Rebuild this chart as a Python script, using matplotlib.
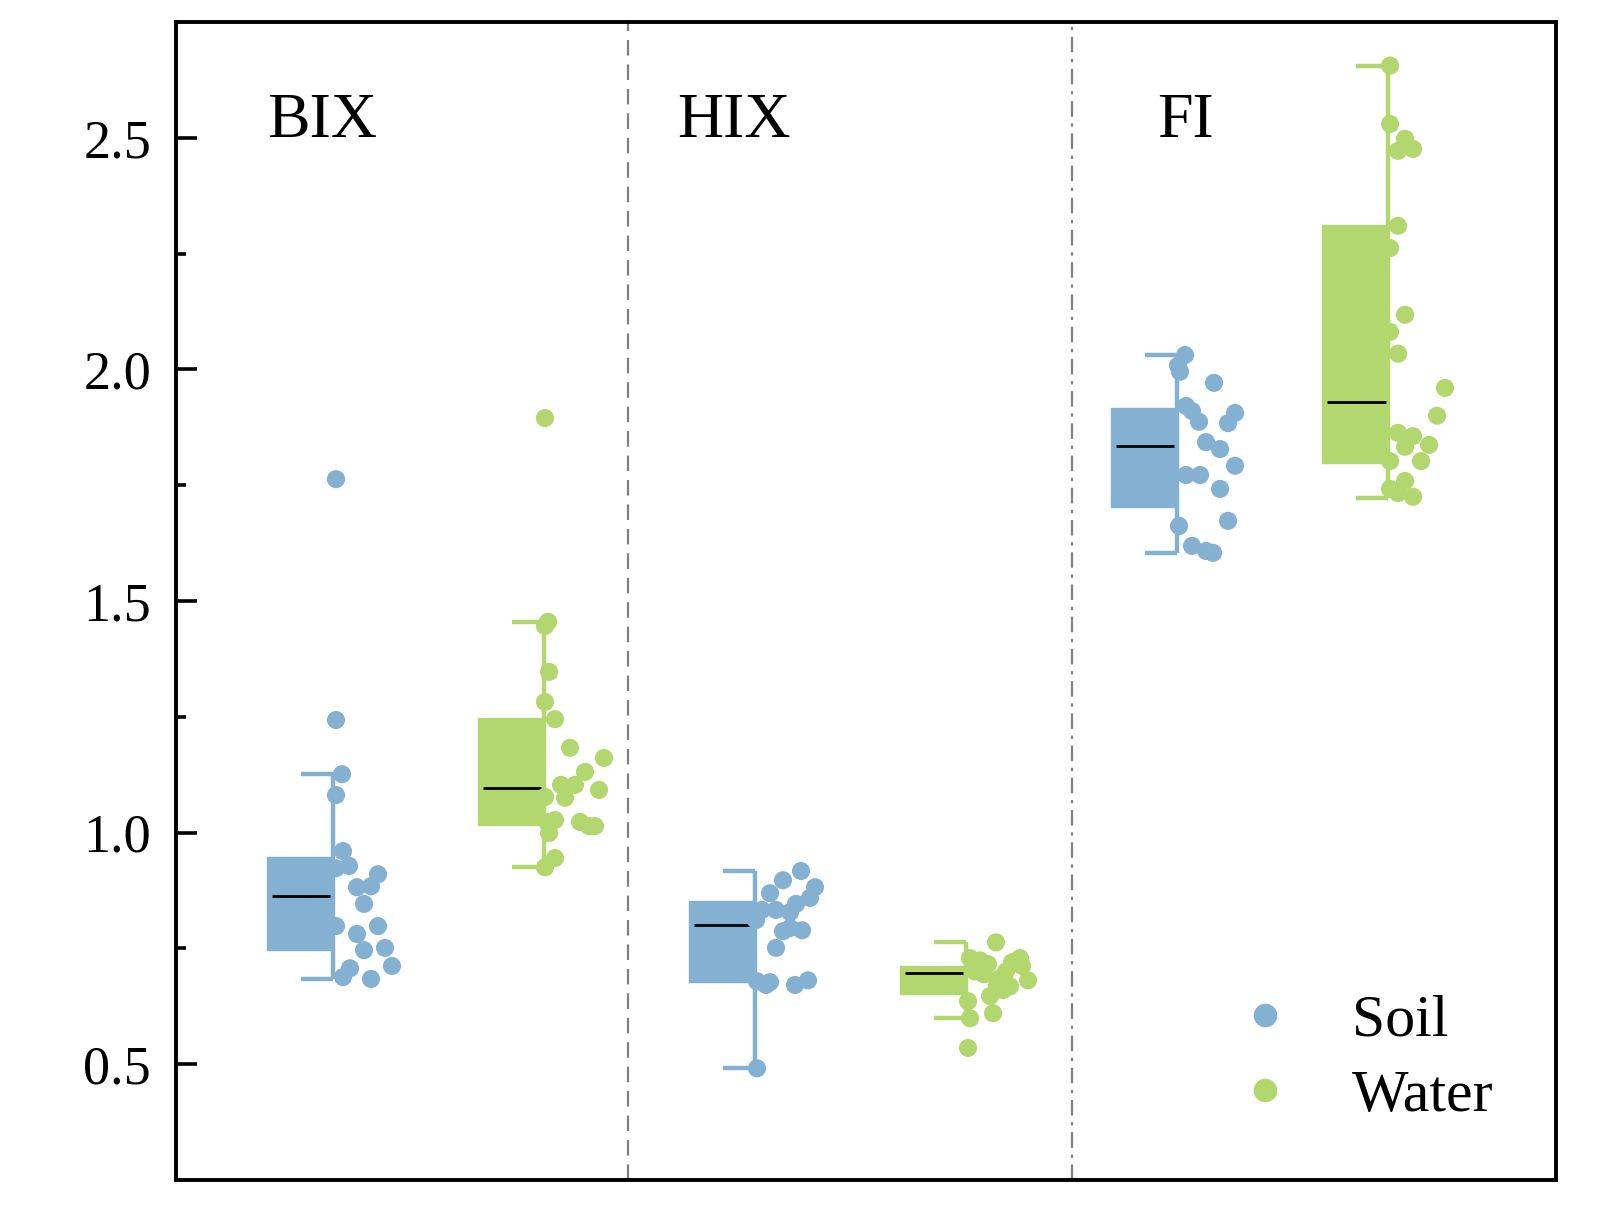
import matplotlib.pyplot as plt
from matplotlib.lines import Line2D

plt.rcParams['font.family'] = ['Liberation Serif', 'DejaVu Serif']

# groups and series
groups = ["BIX", "HIX", "FI"]
series = ["Soil", "Water"]
colors = {"Soil": "#84b0d2", "Water": "#b3d76f"}

# box statistics: (whislo, q1, median, q3, whishi)
soil_stats = [
    (0.684, 0.746, 0.863, 0.947, 1.126),
    (0.491, 0.677, 0.800, 0.852, 0.917),
    (1.604, 1.703, 1.835, 1.917, 2.031),
]
water_stats = [
    (0.925, 1.016, 1.096, 1.247, 1.455),
    (0.599, 0.651, 0.697, 0.712, 0.763),
    (1.722, 1.798, 1.930, 2.312, 2.656),
]

# raw points
soil_bix = [1.763, 1.243, 1.126, 1.081, 0.960, 0.923, 0.928, 0.910, 0.882, 0.884,
            0.846, 0.798, 0.798, 0.781, 0.746, 0.751, 0.712, 0.707, 0.688, 0.684]
water_bix = [1.895, 1.455, 1.446, 1.347, 1.282, 1.245, 1.183, 1.161, 1.131, 1.103, 1.103,
             1.092, 1.077, 1.075, 1.027, 1.023, 1.023, 1.014, 1.014, 0.999, 0.945, 0.925]
soil_hix = [0.491, 0.917, 0.897, 0.869, 0.882, 0.859, 0.833, 0.833, 0.828, 0.846,
            0.811, 0.787, 0.794, 0.789, 0.751, 0.679, 0.671, 0.677, 0.671, 0.681]
water_hix = [0.763, 0.729, 0.724, 0.716, 0.700, 0.694, 0.729, 0.720, 0.712, 0.681,
             0.700, 0.686, 0.671, 0.660, 0.647, 0.668, 0.636, 0.610, 0.599, 0.535]
soil_fi = [2.031, 2.008, 1.995, 1.971, 1.921, 1.910, 1.887, 1.884, 1.906, 1.843,
           1.828, 1.772, 1.772, 1.792, 1.742, 1.673, 1.662, 1.619, 1.608, 1.604]
water_fi = [2.656, 2.530, 2.498, 2.472, 2.476, 2.310, 2.262, 2.118, 2.081, 2.034, 1.960,
            1.900, 1.863, 1.856, 1.833, 1.837, 1.802, 1.802, 1.759, 1.742, 1.733, 1.725]

# horizontal jitter of each point
soil_bix_jit = [3, 3, 9, 3, 10, 3, 16, 45, 24, 38, 31, 3, 45, 24, 31, 52, 59, 17, 10, 38]
water_bix_jit = [1, 4, 1, 5, 1, 11, 26, 60, 41, 17, 31, 55, 1, 21, 11, 3, 36, 45, 51, 5, 11, 1]
soil_hix_jit = [2, 46, 28, 15, 60, 55, 7, 21, 35, 41, 1, 28, 35, 47, 21, 2, 11, 15, 40, 53]
water_hix_jit = [30, 4, 14, 22, 9, 18, 54, 46, 56, 62, 40, 34, 31, 37, 24, 44, 2, 27, 4, 2]
soil_fi_jit = [8, 1, 3, 37, 9, 15, 22, 51, 58, 29, 43, 9, 23, 58, 43, 51, 2, 15, 29, 36]
water_fi_jit = [2, 2, 17, 10, 25, 10, 2, 17, 2, 10, 57, 49, 10, 25, 17, 41, 33, 2, 17, 2, 10, 25]

soil_pts = [soil_bix, soil_hix, soil_fi]
water_pts = [water_bix, water_hix, water_fi]
soil_jit = [soil_bix_jit, soil_hix_jit, soil_fi_jit]
water_jit = [water_bix_jit, water_hix_jit, water_fi_jit]

JIT_UNIT = 1 / 422.0
box_w = 0.156
cap_w = 0.076

fig = plt.figure(figsize=(16, 12.24), dpi=100)
ax = fig.add_axes([0.11, 0.036, 0.8625, 0.946])


def draw_group(x, stats, pts, jit, color):
    lo, q1, med, q3, hi = stats
    ax.vlines(x, lo, hi, color=color, lw=3.2, zorder=2)
    ax.hlines([lo, hi], x - cap_w, x, color=color, lw=3.2, zorder=2)
    ax.bar(x, q3 - q1, bottom=q1, width=-box_w, align='edge', color=color,
           edgecolor=color, lw=1, zorder=3)
    ax.hlines(med, x - box_w + 0.012, x - 0.006, color='black', lw=2, zorder=4)
    ax.scatter([x + j * JIT_UNIT for j in jit], pts, s=170, color=color,
               edgecolors='none', zorder=5)


for i, g in enumerate(groups):
    draw_group(i, soil_stats[i], soil_pts[i], soil_jit[i], colors["Soil"])
    draw_group(i + 0.5, water_stats[i], water_pts[i], water_jit[i], colors["Water"])

# group labels
label_x = [-0.026, 0.95, 2.02]
for i, g in enumerate(groups):
    ax.text(label_x[i], 2.535, g, fontsize=46, ha='center', va='center')

# separators
ax.axvline(0.70, color='#808080', lw=1.6, ls=(0, (7, 4)), zorder=1)
ax.axvline(1.75, color='#808080', lw=1.6, ls=(0, (7, 3, 1.5, 3)), zorder=1)

ax.set_xlim(-0.372, 2.898)
ax.set_ylim(0.25, 2.75)
ax.set_yticks([0.5, 1.0, 1.5, 2.0, 2.5])
ax.set_yticks([0.75, 1.25, 1.75, 2.25], minor=True)
ax.set_yticklabels(["0.5", "1.0", "1.5", "2.0", "2.5"])
ax.set_xticks([])
ax.tick_params(axis='y', which='major', direction='in', length=15, width=2.6,
               labelsize=39, pad=18)
ax.tick_params(axis='y', which='minor', direction='in', length=7.5, width=2.6)
for sp in ax.spines.values():
    sp.set_linewidth(2.8)

handles = [Line2D([], [], ls='none', marker='o', markersize=17, color=colors[s],
                  markeredgewidth=0) for s in series]
ax.legend(handles, series, loc='lower right', frameon=False, fontsize=43,
          handletextpad=0.45, labelspacing=0.35, borderaxespad=0.3,
          bbox_to_anchor=(0.985, 0.012))

fig.savefig("out.png", dpi=100)
